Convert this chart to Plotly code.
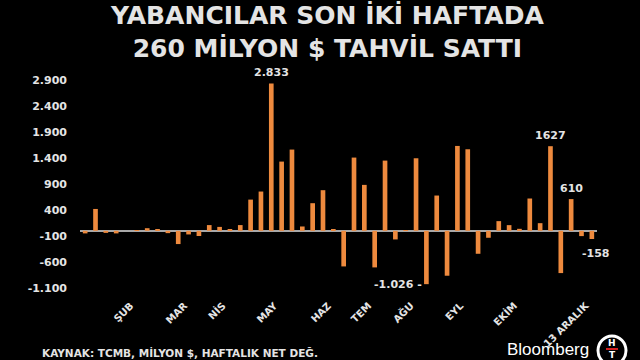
import plotly.graph_objects as go

# weekly net flows (million $)
values = [-50, 420, -40, -50, 0, 10, 50, 20, -45, -255,
          -70, -100, 110, 75, 30, 110, 600, 755, 2833, 1331,
          1562, 83, 531, 781, 25, -685, 1408, 883, -704, 1350,
          -166, 5, 1395, -1026, 678, -864, 1632, 1568, -442, -134,
          186, 109, 38, 621, 147, 1627, -813, 610, -102, -158]
weeks = list(range(len(values)))

month_labels = ["ŞUB", "MAR", "NİS", "MAY", "HAZ", "TEM", "AĞU", "EYL", "EKİM", "13 ARALIK"]
month_pos = [4.4, 9.6, 13.3, 18.3, 23.5, 27.4, 31.5, 36.3, 41.5, 48.4]

y_ticks = [-1100, -600, -100, 400, 900, 1400, 1900, 2400, 2900]
y_ticktext = ["-1.100", "-600", "-100", "400", "900", "1.400", "1.900", "2.400", "2.900"]

labelled = {18: "2.833", 45: "1627", 47: "610", 49: "-158"}

ORANGE = "#EE8A3E"
TXT = "#e4e4e4"
FONT = "DejaVu Sans, Arial, sans-serif"

L, R, T, B = 80, 43, 80, 72
W, H = 640, 360


def px(x):
    return (x - L) / (W - L - R)


def py(y):
    return (H - B - y) / (H - T - B)


fig = go.Figure()
fig.add_trace(go.Bar(x=weeks, y=values, marker_color=ORANGE, width=0.45,
                     marker_line_width=0, hoverinfo="skip"))

annotations = []
for i, t in labelled.items():
    v = values[i]
    annotations.append(dict(x=i, y=v, xref="x", yref="y", text="<b>%s</b>" % t,
                            showarrow=False, font=dict(size=11, color=TXT, family=FONT),
                            yanchor="bottom" if v > 0 else "top",
                            xanchor="center" if v > 0 else "left",
                            xshift=0 if v > 0 else -12,
                            yshift=2 if v > 0 else -6))
annotations.append(dict(x=33, y=-1026, xref="x", yref="y", text="<b>-1.026 -</b>",
                        showarrow=False, font=dict(size=11, color=TXT, family=FONT),
                        xanchor="right", yanchor="middle", xshift=-2, yshift=0))

annotations.append(dict(x=px(327), y=py(32), xref="paper", yref="paper",
                        xanchor="center", yanchor="middle",
                        text="<b>YABANCILAR SON İKİ HAFTADA<br>260 MİLYON $ TAHVİL SATTI</b>",
                        showarrow=False,
                        font=dict(size=25, color=TXT, family=FONT)))

# footer
annotations.append(dict(x=px(40), y=py(352), xref="paper", yref="paper",
                        xanchor="left", yanchor="middle", showarrow=False,
                        text="<b>KAYNAK: TCMB, MİLYON $, HAFTALIK NET DEĞ.</b>",
                        font=dict(size=10.5, color=TXT, family=FONT)))

# Bloomberg HT logo text
annotations.append(dict(x=px(591), y=py(349), xref="paper", yref="paper",
                        xanchor="right", yanchor="middle", showarrow=False,
                        text="Bloomberg", font=dict(size=17, color="white",
                                                    family="Liberation Sans, Arial, sans-serif")))
annotations.append(dict(x=px(612), y=py(343), xref="paper", yref="paper", showarrow=False,
                        xanchor="center", yanchor="middle",
                        text="<b>H</b>", font=dict(size=9, color="white", family=FONT)))
annotations.append(dict(x=px(612), y=py(355), xref="paper", yref="paper", showarrow=False,
                        xanchor="center", yanchor="middle",
                        text="<b>T</b>", font=dict(size=9, color="white", family=FONT)))

fig.update_layout(
    width=W, height=H,
    paper_bgcolor="black", plot_bgcolor="black",
    margin=dict(l=L, r=R, t=T, b=B, autoexpand=False),
    showlegend=False,
    annotations=annotations,
    xaxis=dict(range=[-0.5, 49.5], tickmode="array", tickvals=month_pos,
               ticktext=["<b>%s</b>" % m for m in month_labels], tickangle=-45,
               showgrid=False, zeroline=False, showline=False, ticklabelstandoff=9,
               tickfont=dict(size=10, color=TXT, family=FONT)),
    yaxis=dict(range=[-1100, 2900], tickmode="array", tickvals=y_ticks,
               ticktext=["<b>%s</b>" % t for t in y_ticktext],
               showgrid=False, zeroline=True, zerolinecolor="#a8a8a8", zerolinewidth=1.5,
               showline=False, ticklabelstandoff=12,
               tickfont=dict(size=11, color=TXT, family=FONT)),
)

fig.add_shape(type="circle", xref="paper", yref="paper", layer="above",
              x0=px(598), x1=px(626), y0=py(365), y1=py(336),
              line=dict(color="white", width=3))
fig.add_shape(type="line", xref="paper", yref="paper", layer="above",
              x0=px(606), x1=px(618), y0=py(349), y1=py(349),
              line=dict(color="#d42020", width=2))

fig.write_html("out.html")
